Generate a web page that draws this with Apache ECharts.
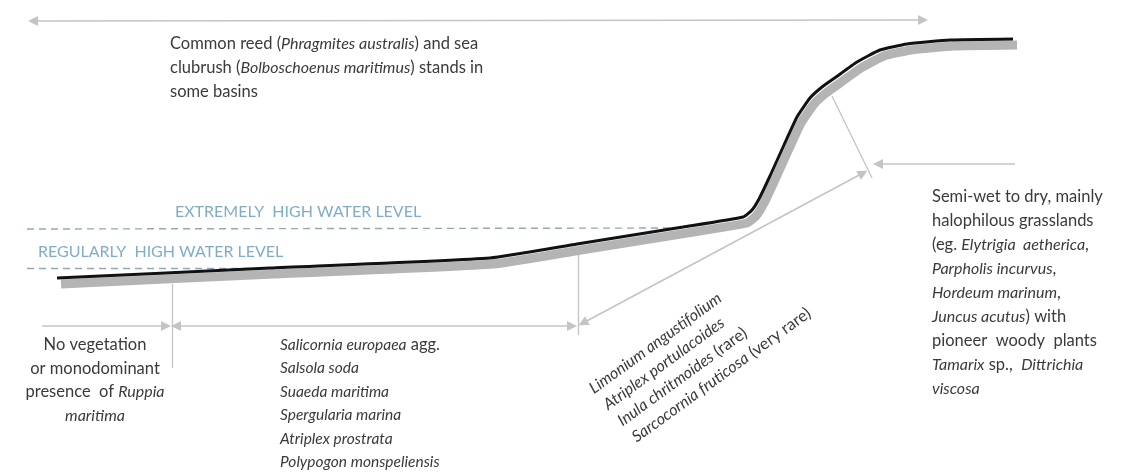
<!DOCTYPE html>
<html>
<head>
<meta charset="utf-8">
<script src="https://cdn.jsdelivr.net/npm/echarts@6/dist/echarts.min.js"></script>
<style>
  html, body { margin: 0; padding: 0; background: #fff; }
  #chart { width: 1129px; height: 472px; }
</style>
</head>
<body>
<div id="chart"></div>
<script>
// ---- Data (diagram coordinates: x 0..1129, y 0..472 downward) ----
const profileX = [57, 270, 490, 577, 683, 743, 752, 759, 770, 784, 797, 810, 822, 836, 857, 880, 907, 950, 1013];
const profileY = [278, 268, 258, 244, 227, 217, 210, 199, 176, 145, 117, 98, 87, 77, 62, 50, 44, 40, 39];

const extremeLevel = [[27, 229], [686, 228]];
const regularLevel = [[27, 268], [290, 268]];

const doubleArrows = [
  [[33, 21], [923, 20]],
  [[176, 326], [572, 326]],
  [[583, 323], [863, 173]]
];
const singleArrows = [
  [[42, 326], [166, 326]],
  [[1015, 164], [878, 164]]
];
const plainLines = [
  [[172, 284], [172, 368]],
  [[578, 250], [578, 335]],
  [[832, 96], [872, 178]]
];

const topLines = [
  'Common reed ({i|Phragmites australis}) and sea',
  'clubrush ({i|Bolboschoenus maritimus}) stands in',
  'some basins'
];
const leftLines = [
  'No vegetation',
  'or monodominant',
  'presence  of {i|Ruppia}',
  '{i|maritima}'
];
const midLines = [
  '{m|Salicornia europaea} agg.',
  '{m|Salsola soda}',
  '{m|Suaeda maritima}',
  '{m|Spergularia marina}',
  '{m|Atriplex prostrata}',
  '{m|Polypogon monspeliensis}'
];
const rotLines = [
  '{i|Limonium angustifolium}',
  '{i|Atriplex portulacoides}',
  '{i|Inula chritmoides} (rare)',
  '{i|Sarcocornia fruticosa} (very rare)'
];
const rightLines = [
  'Semi-wet to dry, mainly',
  'halophilous grasslands',
  '(eg. {i|Elytrigia  aetherica},',
  '{i|Parpholis incurvus},',
  '{i|Hordeum marinum},',
  '{i|Juncus acutus}) with',
  'pioneer  woody  plants',
  '{i|Tamarix} sp.,  {i|Dittrichia}',
  '{i|viscosa}'
];
const levelLabels = ['EXTREMELY  HIGH WATER LEVEL', 'REGULARLY  HIGH WATER LEVEL'];

// ---- Styles ----
const FONT = 'Lato';
const TXT = '#3a3a3a';
const FS = 16.5;
const FSI = 16;
const FSM = 15.5;
const ARROW_LINE = '#c4c4c4';
const ARROW_HEAD = '#a8a8a8';
const BLUE_TXT = '#7fadc8';
const BLUE_DASH = '#8fa9bb';

const profile = profileX.map((x, i) => [x, profileY[i]]);
const shadow = profile.map(p => [p[0] + 4, p[1] + 6]);

const chart = echarts.init(document.getElementById('chart'), null, { renderer: 'canvas' });

function richDef() {
  return {
    i: { fontStyle: 'italic', fontFamily: FONT, fontSize: FSI, fill: TXT },
    m: { fontStyle: 'italic', fontFamily: FONT, fontSize: FSM, fill: TXT }
  };
}
function textEl(str, x, y, align, size) {
  return {
    type: 'text',
    x: x, y: y,
    style: {
      text: str,
      fontFamily: FONT,
      fontSize: size,
      fill: TXT,
      textAlign: align,
      textVerticalAlign: 'middle',
      rich: richDef()
    },
    silent: true
  };
}

const graphics = [];
topLines.forEach((s, i) => graphics.push(textEl(s, 170, 44 + i * 24, 'left', FS)));
leftLines.forEach((s, i) => graphics.push(textEl(s, 95, 345 + i * 23.5, 'center', FS)));
midLines.forEach((s, i) => graphics.push(textEl(s, 280, 345 + i * 23.4, 'left', FS)));
rightLines.forEach((s, i) => graphics.push(textEl(s, 932, 197 + i * 24, 'left', FS)));
graphics.push({
  type: 'group',
  x: 591, y: 390,
  rotation: 36 * Math.PI / 180,
  silent: true,
  children: rotLines.map((s, i) => textEl(s, i * 2, i * 21.5, 'left', FS))
});
graphics.push({
  type: 'text', x: 175, y: 212, silent: true,
  style: { text: levelLabels[0], fontFamily: FONT, fontSize: 16, fill: BLUE_TXT, textVerticalAlign: 'middle' }
});
graphics.push({
  type: 'text', x: 38, y: 252, silent: true,
  style: { text: levelLabels[1], fontFamily: FONT, fontSize: 16, fill: BLUE_TXT, textVerticalAlign: 'middle' }
});

const lineSeries = (name, coordsList, symbol, style) => ({
  type: 'lines',
  name: name,
  coordinateSystem: 'cartesian2d',
  symbol: symbol,
  symbolSize: 10,
  silent: true,
  lineStyle: style,
  itemStyle: { color: ARROW_HEAD },
  data: coordsList.map(c => ({ coords: c })),
  z: 1
});

chart.setOption({
  animation: false,
  backgroundColor: '#ffffff',
  grid: { left: 0, right: 0, top: 0, bottom: 0 },
  xAxis: { type: 'value', min: 0, max: 1129, show: false },
  yAxis: { type: 'value', min: 0, max: 472, inverse: true, show: false },
  graphic: graphics,
  series: [
    lineSeries('extreme', [extremeLevel], ['none', 'none'], { color: BLUE_DASH, width: 1.4, type: [7, 5], opacity: 1 }),
    lineSeries('regular', [regularLevel], ['none', 'none'], { color: BLUE_DASH, width: 1.4, type: [7, 5], opacity: 1 }),
    lineSeries('plain', plainLines, ['none', 'none'], { color: ARROW_LINE, width: 1.3, opacity: 1 }),
    lineSeries('double', doubleArrows, ['triangle', 'triangle'], { color: ARROW_LINE, width: 1.5, opacity: 1 }),
    lineSeries('single', singleArrows, ['none', 'triangle'], { color: ARROW_LINE, width: 1.5, opacity: 1 }),
    {
      type: 'line', name: 'shadow', data: shadow, showSymbol: false, smooth: 0.15,
      lineStyle: { color: '#b4b4b4', width: 9, cap: 'butt' }, silent: true, z: 2
    },
    {
      type: 'line', name: 'profile', data: profile, showSymbol: false, smooth: 0.15,
      lineStyle: { color: '#111111', width: 3 }, silent: true, z: 3
    }
  ]
});
</script>
</body>
</html>
